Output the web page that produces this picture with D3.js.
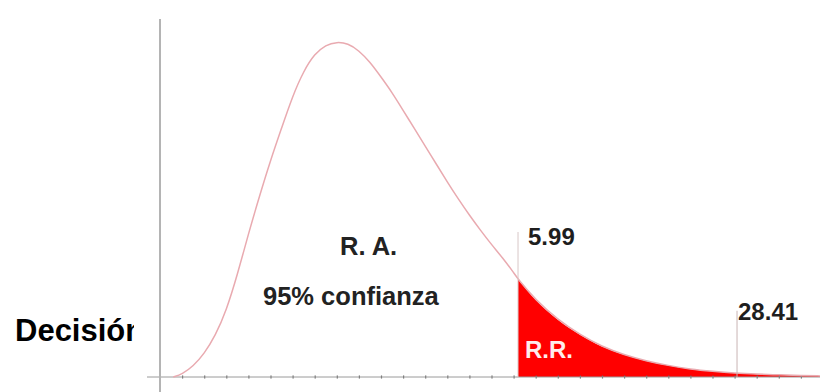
<!DOCTYPE html>
<html>
<head>
<meta charset="utf-8">
<script src="https://cdn.jsdelivr.net/npm/d3@7"></script>
<style>
  html, body { margin: 0; padding: 0; background: #fff; }
  svg { display: block; }
</style>
</head>
<body>
<svg id="chart" width="820" height="392"></svg>
<script>
// ---- data ----
const curveX = [0.6, 1, 1.5, 2, 2.5, 3, 3.5, 4, 4.5, 5, 5.5, 6, 6.5, 7, 7.5, 8, 8.5, 9, 9.5, 10, 10.5, 11, 11.5, 12, 12.5, 13, 13.5, 14, 14.5, 15, 15.5, 16, 16.2, 17, 18, 19, 20, 21, 22, 23, 24, 25, 26, 27, 28, 29, 29.9];
const curveY = [0, 0.008, 0.03, 0.065, 0.115, 0.185, 0.285, 0.4, 0.505, 0.605, 0.695, 0.785, 0.855, 0.903, 0.928, 0.936, 0.932, 0.912, 0.880, 0.838, 0.795, 0.745, 0.695, 0.645, 0.595, 0.545, 0.497, 0.452, 0.410, 0.370, 0.333, 0.292, 0.273, 0.215, 0.160, 0.118, 0.085, 0.062, 0.045, 0.032, 0.022, 0.016, 0.011, 0.008, 0.006, 0.004, 0.003];
const criticalX = [16.20, 26.11];           // positions of the marker lines
const criticalLabels = ["5.99", "28.41"];   // their labels
const markerTop = [0.405, 0.185];           // height of marker lines
const tickValues = d3.range(1, 30);
const regionLabels = ["R. A.", "95% confianza", "R.R."];
const sideLabel = "Decisión";

// ---- scales ----
const svg = d3.select("#chart");
const x = d3.scaleLinear().domain([0, 30]).range([160, 823]);
const y = d3.scaleLinear().domain([0, 1]).range([377, 19]);

const pts = curveX.map((v, i) => ({x: v, y: curveY[i]}));

// rejection region (red area)
const rrPts = pts.filter(d => d.x >= criticalX[0]);
svg.append("path")
  .datum(rrPts)
  .attr("fill", "#ff0000")
  .attr("d", d3.area().x(d => x(d.x)).y0(y(0)).y1(d => y(d.y)).curve(d3.curveMonotoneX));

// x axis
const xAxis = svg.append("g")
  .attr("transform", `translate(0,${y(0) - 1.5})`)
  .call(d3.axisBottom(x).tickValues(tickValues).tickSize(3).tickFormat(""));
xAxis.select(".domain").remove();
xAxis.selectAll(".tick line").attr("stroke", "#666").attr("stroke-width", 1.2);
svg.append("line")
  .attr("x1", 147).attr("x2", 820)
  .attr("y1", y(0)).attr("y2", y(0))
  .attr("stroke", "#9a9a9a").attr("stroke-width", 1);

// y axis
svg.append("line")
  .attr("x1", x(0)).attr("x2", x(0))
  .attr("y1", y(1)).attr("y2", 392)
  .attr("stroke", "#b4b4b4").attr("stroke-width", 2);

// density curve
svg.append("path")
  .datum(pts)
  .attr("fill", "none")
  .attr("stroke", "#e9aab0")
  .attr("stroke-width", 1.5)
  .attr("d", d3.line().x(d => x(d.x)).y(d => y(d.y)).curve(d3.curveBasis));

// marker lines
criticalX.forEach((cx, i) => {
  svg.append("line")
    .attr("x1", x(cx)).attr("x2", x(cx))
    .attr("y1", y(markerTop[i])).attr("y2", y(0))
    .attr("stroke", i === 0 ? "#d8c8c8" : "#c9b4b4")
    .attr("stroke-width", 1);
});

const font = "'Liberation Sans', Arial, sans-serif";
function label(txt, px, py, size, color) {
  return svg.append("text")
    .attr("x", px).attr("y", py)
    .attr("font-family", font)
    .attr("font-weight", "bold")
    .attr("font-size", size)
    .attr("fill", color)
    .text(txt);
}

label(criticalLabels[0], x(criticalX[0]) + 10, 245, 24, "#1e1e1e");
label(criticalLabels[1], x(criticalX[1]) + 1, 320, 24, "#1e1e1e");
label(regionLabels[0], 340, 255, 25.5, "#222");
label(regionLabels[1], 263, 305, 25.5, "#222");
label(regionLabels[2], x(criticalX[0]) + 7, 358, 24, "#ffecec");

// clipped side label
svg.append("clipPath").attr("id", "clipSide")
  .append("rect").attr("x", 0).attr("y", 0).attr("width", 134).attr("height", 392);
label(sideLabel, 15, 341, 31, "#000").attr("clip-path", "url(#clipSide)");
</script>
</body>
</html>
